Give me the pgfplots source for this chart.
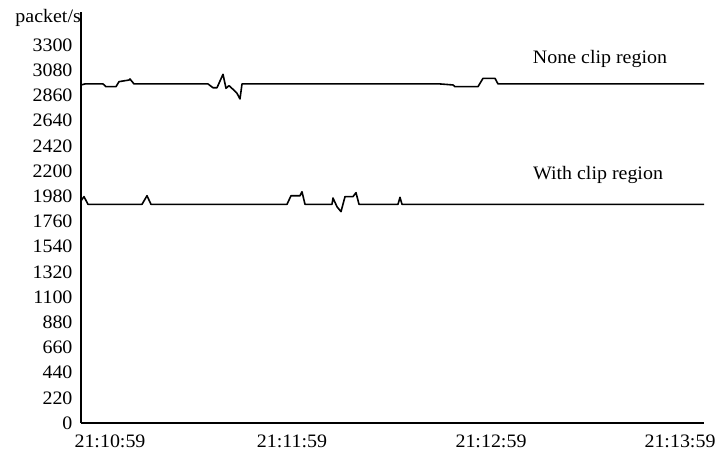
\documentclass[border=0pt]{standalone}
\usepackage{pgfplots}
\pgfplotsset{compat=1.18}
\usepackage{fontspec}
\setmainfont{Liberation Serif}
\newcommand\sx[1]{\scalebox{1.05}[1]{#1}}
\newcommand\fs{\fontsize{19bp}{22bp}\selectfont}
\begin{document}
\begin{tikzpicture}
\fs
\begin{axis}[
  scale only axis,
  width=623bp, height=411bp,
  xmin=81, xmax=704, ymin=0, ymax=3588,
  axis x line=bottom, axis y line=left,
  axis line style={-, line width=2pt},
  major tick length=0pt,
  xtick={110,292,491,680},
  xticklabels={\sx{21:10:59},\sx{21:11:59},\sx{21:12:59},\sx{21:13:59}},
  ytick={0,220,440,660,880,1100,1320,1540,1760,1980,2200,2420,2640,2860,3080,3300},
  yticklabels={\sx{0},\sx{220},\sx{440},\sx{660},\sx{880},\sx{1100},\sx{1320},\sx{1540},\sx{1760},\sx{1980},\sx{2200},\sx{2420},\sx{2640},\sx{2860},\sx{3080},\sx{3300}},
  yticklabel style={xshift=-2bp, font=\fs},
  xticklabel style={yshift=-5bp, font=\fs},
  clip=false,
]
\coordinate (O) at (rel axis cs:0,0);
\addplot[black, line width=1.6pt, line join=round] coordinates {
(81,2951) (85,2960) (103,2960) (106,2936) (116,2936) (119,2980) (129,2994) (130,3003) (134,2960)
(208,2960) (213,2927) (217,2927) (223,3044) (226,2922) (229,2945) (233,2913) (237,2878) (240,2829) (242,2960)
(440,2960) (453,2951) (455,2936) (478,2936) (483,3009) (495,3009) (498,2960) (704,2960)
};
\addplot[black, line width=1.6pt, line join=round] coordinates {
(81,1940) (84,1976) (88,1909) (142,1909) (147,1984) (151,1909) (287,1909) (291,1984) (300,1984) (302,2019) (305,1909)
(332,1909) (333,1964) (337,1888) (341,1845) (345,1976) (353,1976) (356,2011) (359,1909) (398,1909) (400,1970) (402,1909) (704,1909)
};
\node[font=\fs] at (axis cs:600,3178) {\sx{None clip region}};
\node[font=\fs] at (axis cs:598,2165) {\sx{With clip region}};
\node[anchor=east, inner sep=0pt, font=\fs] at ([yshift=-6bp]rel axis cs:0,1) {\sx{packet/s}};
\end{axis}
\pgfresetboundingbox
\path[use as bounding box] (O) ++(-81bp,-30bp) rectangle ++(718bp,453bp);
\end{tikzpicture}
\end{document}
